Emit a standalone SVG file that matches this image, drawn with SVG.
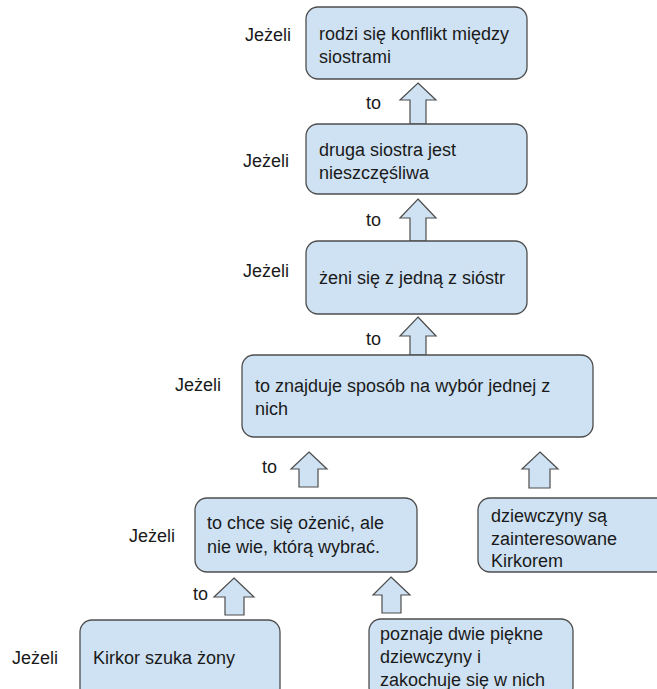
<svg xmlns="http://www.w3.org/2000/svg" width="657" height="689" viewBox="0 0 657 689">
  <style>
    .box { fill: #cfe2f3; stroke: #4d4d4d; stroke-width: 1.3; }
    .arrow { fill: #cfe2f3; stroke: #4d4d4d; stroke-width: 1.2; stroke-linejoin: miter; }
    text { font-family: "Liberation Sans", Arial, sans-serif; font-size: 18px; fill: #1a1a1a; }
  </style>
  <rect width="657" height="689" fill="#ffffff"/>

  <!-- block arrows pointing upward between steps -->
  <g id="connectors">
    <polygon class="arrow" points="418,83 436,100 426,100 426,124 410,124 410,100 400,100"/>
    <polygon class="arrow" points="418,199 436,218 426,218 426,241 410,241 410,218 400,218"/>
    <polygon class="arrow" points="418,317 436,336 426,336 426,355 410,355 410,336 400,336"/>
    <polygon class="arrow" points="309,452 327,469 318,469 318,487 299,487 299,469 291,469"/>
    <polygon class="arrow" points="540,452 558,469 550,469 550,488 529,488 529,469 522,469"/>
    <polygon class="arrow" points="234,578 254,597 244,597 244,615 225,615 225,597 214,597"/>
    <polygon class="arrow" points="391,577 410,595 401,595 401,613 382,613 382,595 373,595"/>
    <text x="366" y="109">to</text>
    <text x="366" y="226">to</text>
    <text x="366" y="345">to</text>
    <text x="262" y="473">to</text>
    <text x="193" y="600">to</text>
  </g>

  <g id="node-konflikt">
    <text x="245" y="41">Jeżeli</text>
    <rect class="box" x="306" y="7" width="221" height="72" rx="12"/>
    <text x="319" y="40">rodzi się konflikt między</text>
    <text x="319" y="63">siostrami</text>
  </g>

  <g id="node-nieszczesliwa">
    <text x="243" y="167">Jeżeli</text>
    <rect class="box" x="306" y="124" width="221" height="70" rx="12"/>
    <text x="319" y="156">druga siostra jest</text>
    <text x="319" y="179">nieszczęśliwa</text>
  </g>

  <g id="node-zeni-sie">
    <text x="243" y="277">Jeżeli</text>
    <rect class="box" x="306" y="241" width="221" height="73" rx="12"/>
    <text x="319" y="284">żeni się z jedną z sióstr</text>
  </g>

  <g id="node-sposob">
    <text x="175" y="391">Jeżeli</text>
    <rect class="box" x="242" y="355" width="351" height="82" rx="12"/>
    <text x="255" y="392">to znajduje sposób na wybór jednej z</text>
    <text x="255" y="415">nich</text>
  </g>

  <g id="node-chce-sie-ozenic">
    <text x="129" y="542">Jeżeli</text>
    <rect class="box" x="195" y="498" width="222" height="74" rx="12"/>
    <text x="207" y="529">to chce się ożenić, ale</text>
    <text x="207" y="553">nie wie, którą wybrać.</text>
  </g>

  <g id="node-zainteresowane">
    <rect class="box" x="478" y="498" width="200" height="74" rx="12"/>
    <text x="491" y="522">dziewczyny są</text>
    <text x="491" y="545">zainteresowane</text>
    <text x="491" y="567">Kirkorem</text>
  </g>

  <g id="node-szuka-zony">
    <text x="12" y="664">Jeżeli</text>
    <rect class="box" x="80" y="620" width="200" height="80" rx="12"/>
    <text x="93" y="664">Kirkor szuka żony</text>
  </g>

  <g id="node-poznaje">
    <rect class="box" x="369" y="619" width="204" height="80" rx="12"/>
    <text x="380" y="640">poznaje dwie piękne</text>
    <text x="380" y="663">dziewczyny i</text>
    <text x="380" y="686">zakochuje się w nich</text>
  </g>
</svg>
